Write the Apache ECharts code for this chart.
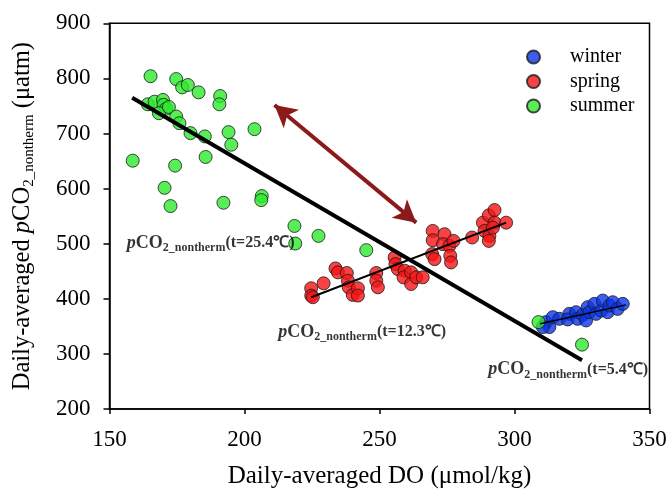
<!DOCTYPE html>
<html>
<head>
<meta charset="utf-8">
<script src="https://cdn.jsdelivr.net/npm/echarts@6/dist/echarts.min.js"></script>
<style>
  html, body { margin: 0; padding: 0; background: #fff; }
  #chart { width: 671px; height: 494px; }
</style>
</head>
<body>
<div id="chart"></div>
<script>
// 数据：DO (x) 与 pCO2_nontherm (y)
const winterData = [
  [311.7, 357.7], [312.9, 348.7], [310.5, 348.7], [314.2, 366.7], [316.6, 363.7],
  [320.3, 372.7], [319.7, 362.5], [322.8, 375.7], [323.4, 363.7], [325.3, 370.9],
  [326.5, 360.7], [327.1, 384.8], [327.7, 375.7], [329.6, 390.8], [330.2, 372.7],
  [332.1, 378.7], [332.7, 396.8], [334.5, 375.7], [335.2, 387.8], [336.4, 393.8],
  [338.2, 381.7], [340.1, 390.8]
]
const springData = [
  [224.7, 419.1], [224.7, 405.9], [225.3, 402.9], [229.3, 428.1], [233.7, 455.2],
  [234.6, 448.0], [237.9, 446.8], [238.3, 432.9], [238.6, 420.9], [240.1, 407.1],
  [242.0, 419.1], [242.0, 405.9], [248.8, 446.8], [248.8, 432.9], [249.4, 420.9],
  [255.6, 475.1], [255.9, 463.0], [256.8, 454.0], [259.3, 451.0], [258.9, 439.0],
  [261.7, 448.0], [261.7, 426.9], [263.6, 439.0], [266.0, 439.0], [269.7, 523.2],
  [269.7, 506.3], [269.5, 481.1], [270.4, 472.0], [274.1, 517.2], [273.5, 499.1],
  [275.9, 496.1], [277.4, 505.1], [276.2, 478.1], [276.5, 466.0], [284.3, 511.2],
  [288.3, 538.2], [290.5, 551.5], [292.6, 561.1], [288.9, 523.2], [290.7, 514.2],
  [290.5, 505.1], [292.6, 538.2], [296.9, 538.2], [292.0, 529.2]
]
const summerData = [
  [165.2, 804.0], [174.7, 798.8], [176.9, 783.7], [179.0, 788.0], [183.0, 774.7],
  [191.0, 768.0], [190.7, 753.0], [164.2, 753.0], [166.7, 757.8], [169.8, 760.9],
  [170.0, 752.0], [171.0, 745.0], [168.3, 736.8], [172.0, 748.0], [174.7, 730.8],
  [175.9, 718.7], [180.0, 700.7], [185.3, 694.7], [194.1, 702.5], [195.1, 679.6],
  [203.7, 707.9], [158.6, 650.7], [174.3, 641.7], [185.6, 657.4], [170.4, 601.4],
  [172.6, 568.3], [192.2, 574.3], [206.4, 586.4], [206.2, 579.1], [218.5, 532.2],
  [218.8, 500.3], [227.4, 514.2], [245.1, 488.3], [308.9, 357.7], [325.0, 316.8]
]

// 拟合线
const mainFit = [[158.4, 765.0], [325.0, 288.5]]
const springFit = [[224.7, 402.9], [296.9, 538.2]]
const winterFit = [[309.5, 354.7], [341.3, 389.0]]

// 双向箭头
const arrowStart = [211.1, 751.8]
const arrowEnd = [263.6, 538.2]

// 注释文字
const noteX = [156.4, 212.5, 290.3]
const noteY = [501, 340, 271.4]
const noteTemp = ['25.4', '12.3', '5.4']

const legendNames = ['winter', 'spring', 'summer']
const serif = 'Liberation Serif'

const chart = echarts.init(document.getElementById('chart'))

const dotStyle = color => ({ color: color, borderColor: '#1a1a1a', borderWidth: 1 })
const fitLine = (data, width) => ({
  type: 'line',
  data: data,
  symbol: 'none',
  silent: true,
  z: 5,
  lineStyle: { color: '#000', width: width }
})

chart.setOption({
  animation: false,
  grid: {
    left: 109.5, right: 21.5, top: 23.3, bottom: 83.5,
    show: true, borderColor: '#000', borderWidth: 1.5
  },
  legend: {
    data: legendNames,
    orient: 'vertical',
    left: 521,
    top: 42,
    itemWidth: 13,
    itemHeight: 13,
    itemGap: 4.5,
    textStyle: { fontFamily: serif, fontSize: 20, color: '#000', padding: [0, 0, 0, 25] }
  },
  xAxis: {
    type: 'value',
    min: 150, max: 350, interval: 50,
    name: 'Daily-averaged DO (μmol/kg)',
    nameLocation: 'middle',
    nameGap: 55,
    nameTextStyle: { fontFamily: serif, fontSize: 25, color: '#000' },
    axisLine: { lineStyle: { color: '#000', width: 1.5 } },
    axisTick: { inside: false, length: 5, lineStyle: { color: '#000', width: 1.5 } },
    axisLabel: { fontFamily: serif, fontSize: 23, color: '#000', margin: 19 },
    splitLine: { show: false }
  },
  yAxis: {
    type: 'value',
    min: 200, max: 900, interval: 100,
    name: '{n|Daily-averaged }{i|p}{n|CO}{s|2_nontherm}{n| (μatm)}',
    nameLocation: 'middle',
    nameGap: 73,
    nameTextStyle: {
      fontFamily: serif, fontSize: 24.5, color: '#000',
      rich: {
        n: { fontFamily: serif, fontSize: 24.5, color: '#000' },
        i: { fontFamily: serif, fontSize: 24.5, fontStyle: 'italic', color: '#000' },
        s: { fontFamily: serif, fontSize: 15, color: '#000', padding: [13, 0, 0, 0] }
      }
    },
    axisLine: { lineStyle: { color: '#000', width: 1.5 } },
    axisTick: { inside: false, length: 6, lineStyle: { color: '#000', width: 1.5 } },
    axisLabel: { fontFamily: serif, fontSize: 23, color: '#000', margin: 19 },
    splitLine: { show: false }
  },
  series: [
    {
      name: 'winter', type: 'scatter', data: winterData,
      symbolSize: 13, itemStyle: dotStyle('#0b35e8')
    },
    {
      name: 'spring', type: 'scatter', data: springData,
      symbolSize: 13, itemStyle: dotStyle('#f51414')
    },
    {
      name: 'summer', type: 'scatter', data: summerData,
      symbolSize: 13, itemStyle: dotStyle('#2eea2e')
    },
    fitLine(mainFit, 4),
    fitLine(springFit, 2),
    fitLine(winterFit, 1.5),
    {
      type: 'line',
      data: [],
      silent: true,
      markLine: {
        silent: true,
        symbol: ['arrow', 'arrow'],
        symbolSize: [18, 22],
        label: { show: false },
        lineStyle: { color: '#8b1a1a', width: 4, type: 'solid' },
        data: [[{ coord: arrowStart }, { coord: arrowEnd }]]
      }
    },
    {
      type: 'scatter',
      silent: true,
      symbolSize: 0,
      z: 6,
      data: noteX.map((x, i) => [x, noteY[i], noteTemp[i]]),
      label: {
        show: true,
        position: 'right',
        distance: 0,
        formatter: p => '{i|p}{b|CO}{s|2_nontherm}{t|(t=' + p.data[2] + '℃)}',
        rich: {
          i: { fontFamily: serif, fontSize: 18, fontStyle: 'italic', fontWeight: 'bold', color: '#000' },
          b: { fontFamily: serif, fontSize: 18, fontWeight: 'bold', color: '#000' },
          s: { fontFamily: serif, fontSize: 12, fontWeight: 'bold', color: '#000', padding: [10, 0, 0, 0] },
          t: { fontFamily: serif, fontSize: 16, fontWeight: 'bold', color: '#000' }
        }
      }
    }
  ]
})
</script>
</body>
</html>
